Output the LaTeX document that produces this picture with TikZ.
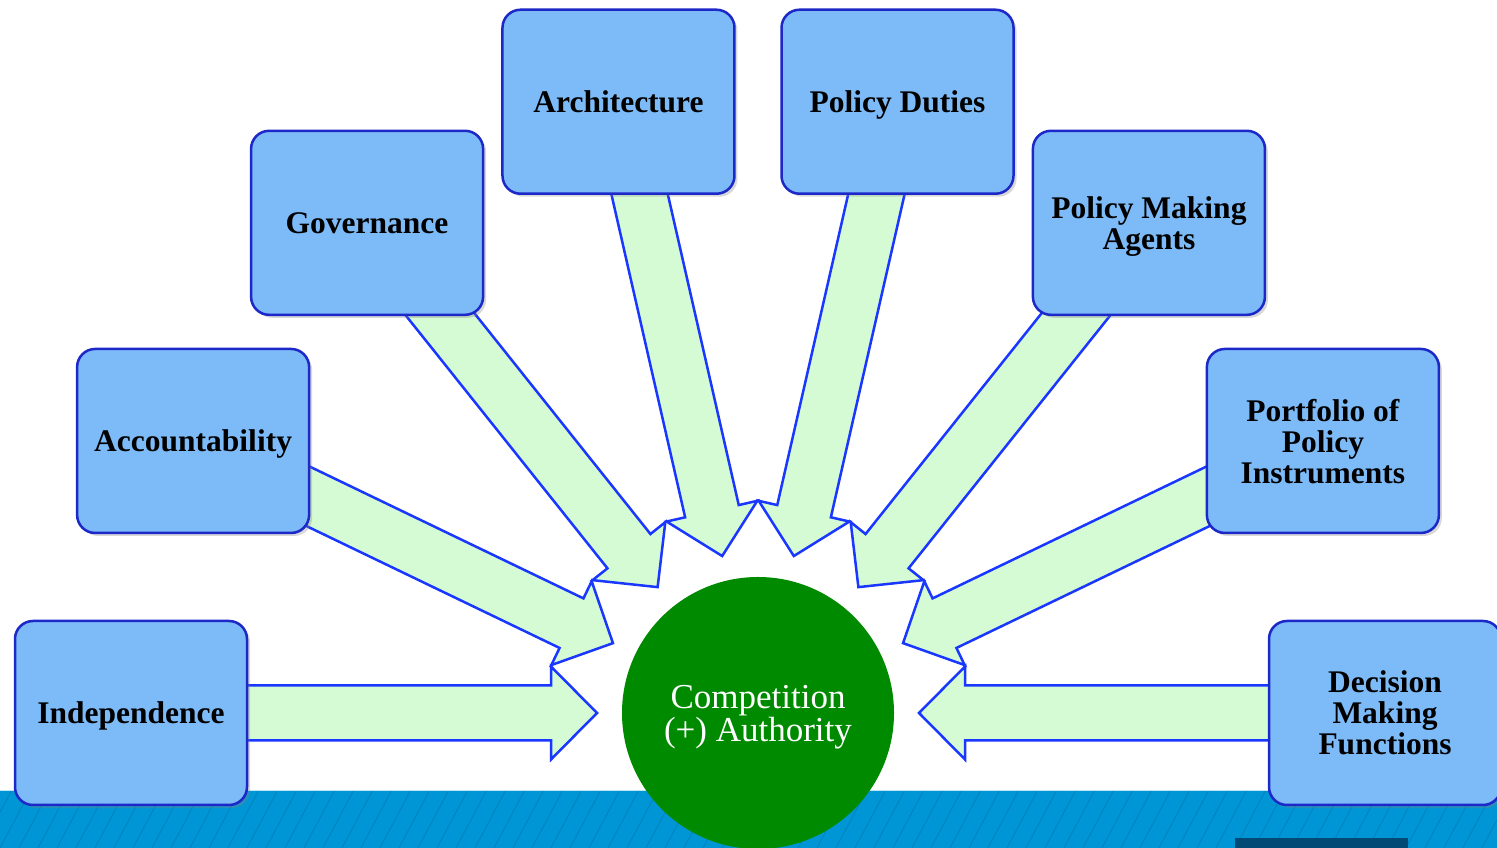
\documentclass[tikz,border=0pt]{standalone}
\usepackage{fontspec}
\setmainfont{Liberation Serif}
\usetikzlibrary{shadows,calc}
\definecolor{arrowblue}{RGB}{25,55,255}
\definecolor{arrowfill}{RGB}{213,251,213}
\definecolor{boxfill}{RGB}{125,187,248}
\definecolor{boxline}{RGB}{28,40,200}
\definecolor{cgreen}{RGB}{0,138,0}
\definecolor{stripblue}{RGB}{0,150,214}
\definecolor{hatchblue}{RGB}{0,132,192}
\definecolor{darkrect}{RGB}{0,74,117}
\begin{document}
\begin{tikzpicture}[x=1pt,y=1pt,
  box/.style={draw=boxline, line width=2.5pt, fill=boxfill, rounded corners=18pt,
    minimum width=232pt, minimum height=184pt, inner sep=0pt, align=center,
    text depth=0pt, font=\bfseries\fontsize{31.5}{31}\selectfont,
    drop shadow={shadow xshift=3pt, shadow yshift=-3pt, opacity=0.3}},
  blockarrow/.style={draw=arrowblue, line width=2.5pt, fill=arrowfill, line join=miter},
  hub/.style={circle, fill=cgreen, minimum size=272pt, inner sep=0pt, text=white,
    align=center, text depth=0pt, font=\fontsize{35}{33}\selectfont}
]
\useasboundingbox (0,0) rectangle (1497,848);
\fill[white] (0,0) rectangle (1497,848);
% bottom strip
\fill[stripblue] (0,0) rectangle (1497,57);
\begin{scope}
  \clip (0,0) rectangle (1497,57);
  \foreach \i in {-3,...,80} \draw[hatchblue, line width=1pt] (\i*19,0) -- ++(62:70);
\end{scope}
\draw[white!75!stripblue, line width=1pt] (0,57) -- (1497,57);
\fill[darkrect] (1235,0) rectangle (1408,10);
\coordinate (C) at (758,135);
% block arrows
\foreach \k in {0,...,7} {
  \begin{scope}[shift={(C)}, rotate={180-\k*180/7}]
    \draw[blockarrow] (627,27.5) -- (207,27.5) -- (207,46.5) -- (161,0)
      -- (207,-46.5) -- (207,-27.5) -- (627,-27.5) -- cycle;
  \end{scope}
}
% boxes
\node[box] (indep) at ([shift={(180:627)}]C) {Independence};
\node[box] (account) at ([shift={(154.2857:627)}]C) {Accountability};
\node[box] (gov) at ([shift={(128.5714:627)}]C) {Governance};
\node[box] (arch) at ([shift={(102.8571:627)}]C) {Architecture};
\node[box] (duties) at ([shift={(77.1429:627)}]C) {Policy Duties};
\node[box] (agents) at ([shift={(51.4286:627)}]C) {Policy Making\\Agents};
\node[box] (portfolio) at ([shift={(25.7143:627)}]C) {Portfolio of\\Policy\\Instruments};
\node[box] (decision) at ([shift={(0:627)}]C) {Decision\\Making\\Functions};
% hub
\node[hub] (auth) at (C) {Competition\\(+) Authority};
\end{tikzpicture}
\end{document}
